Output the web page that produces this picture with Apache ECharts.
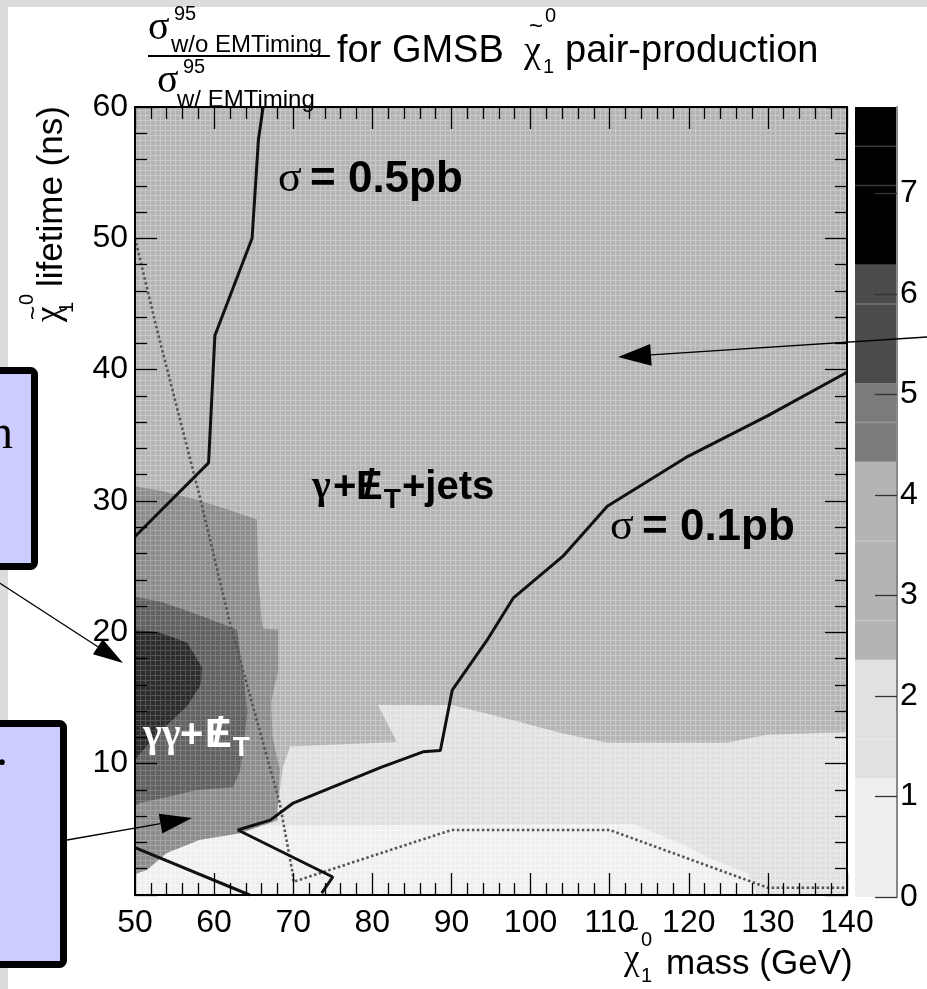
<!DOCTYPE html>
<html>
<head>
<meta charset="utf-8">
<title>GMSB neutralino pair-production, sigma ratio</title>
<script src="https://cdn.jsdelivr.net/npm/echarts@6.0.0/dist/echarts.min.js"></script>
<style>
  html, body { margin: 0; padding: 0; background: #fff; }
  #chart { width: 927px; height: 989px; }
</style>
</head>
<body>
<div id="chart"></div>
<script>
// axis ranges
const massRange = [50, 140];
const lifetimeRange = [0, 60];
const colorMax = 7.86;

// colour scale: band edges and greys, plus the faint contour levels inside bands
const bandEdges = [0, 1.18, 2.36, 4.33, 5.11, 6.29, 7.86];
const bandColors = ['#efefef', '#e1e1e1', '#b4b4b4', '#7b7b7b', '#4b4b4b', '#000000'];
const bandSubLevels = [1.57, 2.75, 3.54, 4.72, 5.9, 7.08, 7.47];

// filled contour regions, points are [mass GeV, lifetime ns]
const regionAll = [[50, 0], [140, 0], [140, 60], [50, 60]];
const regionLight = [[50, 0], [50, 1.6], [51.5, 1.9], [54, 3.2], [58.2, 4.2], [63.3, 4.7], [68, 5.7], [68, 6.5],
  [68.7, 9.75], [69.6, 11.3], [83.1, 11.65], [80.7, 14.47], [90.1, 14.47], [97.8, 13.3], [104.1, 12.3],
  [109.7, 11.6], [124.8, 11.6], [129.9, 12.2], [140, 12.4], [140, 0]];
const regionLightest = [[50, 0], [50, 1.6], [51.5, 1.9], [54, 3.2], [58.2, 4.2], [63.3, 4.7], [66, 5.3],
  [113, 5.4], [120, 3.66], [123.1, 2.67], [127.4, 1.68], [128.6, 0]];
const regionOuter = [[50, 31.1], [53.2, 30.8], [57.8, 30.1], [61.5, 29.4], [65.4, 28.6], [65.6, 24], [66, 21],
  [66.2, 20.3], [68.1, 20.2], [68.1, 17.1], [67.6, 15.8], [67.2, 14.6], [67.4, 12], [68.3, 9.5], [68, 6.5],
  [68, 5.7], [63.3, 4.7], [58.2, 4.2], [54, 3.2], [51.5, 1.9], [50, 1.6]];
const regionMiddle = [[50, 22.7], [53.5, 22.3], [58.6, 21.2], [62.9, 20.2], [63.3, 18.4], [63.9, 15.8],
  [64.2, 14], [63.8, 11.5], [63.3, 9.5], [62.4, 8.2], [57.8, 8.0], [54.4, 7.5], [50.6, 7.0], [50, 6.8]];
const regionInner = [[50, 20.2], [53, 20], [56.6, 19.2], [58.5, 17.3], [58.3, 16], [56.6, 14.4], [54.5, 13.2],
  [53.2, 12.5], [51, 11], [50, 10.3]];

// cross-section contours
const sigma05 = [[66.2, 60], [65.6, 57.5], [64.8, 50], [60.1, 42.6], [59.3, 32.9], [50, 27.3]];
const sigma01 = [[140, 39.8], [130, 36.5], [119.9, 33.4], [109.7, 29.6], [104.1, 25.8], [97.8, 22.6],
  [94.5, 19.4], [90.1, 15.6], [88.6, 11.0], [86.4, 10.9], [81.0, 9.7], [70.0, 7.0], [67.1, 5.7], [63.0, 4.95],
  [75.0, 1.37], [73.6, 0.15]];
const sigma01Low = [[50, 3.6], [64.5, 0]];
const dottedContour = [[50, 50], [52.8, 43], [58.2, 30.3], [62, 20.7], [68.3, 7], [70, 1.4], [70, 1.0],
  [90, 4.95], [110, 4.95], [130, 0.55], [140, 0.55]];

function texture(base, light) {
  const c = document.createElement('canvas');
  c.width = 5; c.height = 5;
  const g = c.getContext('2d');
  g.fillStyle = base; g.fillRect(0, 0, 5, 5);
  g.fillStyle = light; g.fillRect(0, 0, 1, 5); g.fillRect(0, 0, 5, 1);
  return { image: c, repeat: 'repeat' };
}

const regions = [
  { pts: regionAll, fill: texture('#b4b4b4', '#c8c8c8') },
  { pts: regionLight, fill: texture('#e0e0e0', '#ebebeb') },
  { pts: regionLightest, fill: texture('#efefef', '#f7f7f7') },
  { pts: regionOuter, fill: texture('#8c8c8c', '#a4a4a4') },
  { pts: regionMiddle, fill: texture('#616161', '#7e7e7e') },
  { pts: regionInner, fill: texture('#2c2c2c', '#525252') }
];

const SANS = "'Liberation Sans', Arial, sans-serif";
const SERIF = "'Liberation Serif', 'DejaVu Serif', serif";

// text placed by its baseline
function txt(x, base, text, size, family, opts) {
  opts = opts || {};
  return {
    type: 'text', x: x, y: base - 0.3 * size, z: 100,
    style: {
      text: text, font: (opts.weight || 'normal') + ' ' + size + 'px ' + family,
      fill: opts.fill || '#000', textAlign: opts.align || 'left', textVerticalAlign: 'middle'
    }
  };
}
// rotated text reading upwards, baseline at x = bx, starting at y
function vtxt(bx, y, text, size, family) {
  const el = txt(bx, 0, text, size, family);
  el.x = bx - 0.3 * size; el.y = y; el.rotation = Math.PI / 2;
  return el;
}
function arrow(x0, y0, x1, y1, len, half) {
  const d = Math.hypot(x1 - x0, y1 - y0), ux = (x1 - x0) / d, uy = (y1 - y0) / d;
  const bx = x1 - ux * len, by = y1 - uy * len;
  return [
    { type: 'line', z: 100, shape: { x1: x0, y1: y0, x2: bx, y2: by }, style: { stroke: '#000', lineWidth: 1.3 } },
    { type: 'polygon', z: 100, shape: { points: [[x1, y1], [bx - uy * half, by + ux * half], [bx + uy * half, by - ux * half]] },
      style: { fill: '#000' } }
  ];
}
function slashedE(x, base, size, fill, subSize, subDrop) {
  const w = 0.667 * size;
  return [
    txt(x, base, 'E', size, SANS, { weight: 'bold', fill: fill }),
    txt(x + w / 2, base - 0.02 * size, '/', size, SANS, { weight: 'bold', fill: fill, align: 'center' }),
    txt(x + w + 1, base + subDrop, 'T', subSize, SANS, { weight: 'bold', fill: fill })
  ];
}

const axisFont = { fontFamily: SANS, fontSize: 32, color: '#000' };
function frameAxis(extra) {
  return Object.assign({
    type: 'value', gridIndex: 0, z: 10,
    axisLine: { show: true, onZero: false, lineStyle: { color: '#000', width: 2 } },
    axisTick: { show: true, inside: true, length: 22, lineStyle: { color: '#000', width: 1.3 } },
    minorTick: { show: true, splitNumber: 5, length: 12, lineStyle: { color: '#000', width: 1.3 } },
    splitLine: { show: false }
  }, extra);
}

const graphics = [
  { type: 'rect', z: 90, shape: { x: 0, y: 0, width: 927, height: 7 }, style: { fill: '#dcdcdc' } },
  { type: 'rect', z: 90, shape: { x: 0, y: 0, width: 8, height: 989 }, style: { fill: '#dcdcdc' } },
  // slide boxes cut off at the left
  { type: 'rect', z: 95, shape: { x: -20, y: 370.5, width: 54.5, height: 196, r: 4 },
    style: { fill: '#ccccff', stroke: '#000', lineWidth: 7 } },
  { type: 'rect', z: 95, shape: { x: -20, y: 723.5, width: 83.5, height: 241, r: 4 },
    style: { fill: '#ccccff', stroke: '#000', lineWidth: 7 } },
  txt(13, 450, 'n', 48, SERIF, { align: 'right' }),
  txt(-4, 767, '.', 48, SERIF),
  // title fraction
  txt(148, 40, 'σ', 40, SERIF),
  txt(174, 20, '95', 20, SANS),
  txt(171, 53, 'w/o EMTiming', 24, SANS),
  { type: 'line', z: 100, shape: { x1: 148, y1: 56, x2: 330, y2: 56 }, style: { stroke: '#000', lineWidth: 2 } },
  txt(157, 93, 'σ', 40, SERIF),
  txt(183, 73, '95', 20, SANS),
  txt(177, 108, 'w/ EMTiming', 24, SANS),
  txt(337, 63, 'for GMSB', 38, SANS),
  txt(524, 63, 'χ', 38, SERIF),
  txt(536, 35, '~', 24, SANS, { align: 'center' }),
  txt(545, 22, '0', 20, SANS),
  txt(543, 73, '1', 20, SANS),
  txt(565, 63, 'pair-production', 38, SANS),
  // y axis title
  vtxt(63, 287, 'lifetime (ns)', 35, SANS),
  vtxt(60, 322, 'χ', 35, SERIF),
  vtxt(73, 313, '1', 20, SANS),
  vtxt(33, 305, '0', 20, SANS),
  { type: 'text', x: 34, y: 313, z: 100, rotation: Math.PI / 2,
    style: { text: '~', font: '24px ' + SANS, fill: '#000', textAlign: 'center', textVerticalAlign: 'middle' } },
  // x axis title
  txt(624, 970, 'χ', 35, SERIF),
  txt(632, 938, '~', 24, SANS, { align: 'center' }),
  txt(641, 946, '0', 20, SANS),
  txt(641, 982, '1', 20, SANS),
  txt(666, 975, 'mass (GeV)', 35, SANS),
  // labels inside the frame
  txt(278, 193, 'σ', 44, SERIF),
  txt(310, 193, '= 0.5pb', 44, SANS, { weight: 'bold' }),
  txt(610, 541, 'σ', 44, SERIF),
  txt(642, 541, '= 0.1pb', 44, SANS, { weight: 'bold' }),
  txt(312, 500, 'γ', 40, SERIF, { weight: 'bold' }),
  txt(333, 500, '+', 40, SANS, { weight: 'bold' }),
  ...slashedE(356, 500, 40, '#000', 28, 9),
  txt(402, 500, '+jets', 40, SANS, { weight: 'bold' }),
  txt(143, 748, 'γγ', 40, SERIF, { weight: 'bold', fill: '#fff' }),
  txt(180, 748, '+', 40, SANS, { weight: 'bold', fill: '#fff' }),
  ...slashedE(205, 748, 40, '#fff', 28, 9),
  ...arrow(-5, 580, 123, 663, 30, 9),
  ...arrow(67, 840, 192, 818, 32, 10),
  ...arrow(927, 337, 618, 357, 33, 11)
];

const chart = echarts.init(document.getElementById('chart'), null, { renderer: 'canvas' });
chart.setOption({
  animation: false,
  backgroundColor: '#fff',
  grid: [
    { left: 135, top: 107, width: 712, height: 788, outerBoundsMode: 'none' },
    { left: 855, top: 107, width: 42, height: 790, outerBoundsMode: 'none' }
  ],
  xAxis: [
    frameAxis({ min: massRange[0], max: massRange[1], interval: 10, position: 'bottom',
      axisLabel: Object.assign({ margin: 12 }, axisFont) }),
    frameAxis({ min: massRange[0], max: massRange[1], interval: 10, position: 'top', axisLabel: { show: false } }),
    { type: 'value', gridIndex: 1, min: 0, max: 1, show: false }
  ],
  yAxis: [
    frameAxis({ min: lifetimeRange[0], max: lifetimeRange[1], interval: 10, position: 'left',
      axisLabel: Object.assign({ margin: 7, showMinLabel: false }, axisFont) }),
    frameAxis({ min: lifetimeRange[0], max: lifetimeRange[1], interval: 10, position: 'right', axisLabel: { show: false } }),
    { type: 'value', gridIndex: 1, min: 0, max: colorMax, interval: 1, position: 'right', z: 10,
      axisLine: { show: true, onZero: false, lineStyle: { color: '#888', width: 2 } },
      axisTick: { show: true, inside: true, length: 22, lineStyle: { color: '#333', width: 1.3 } },
      axisLabel: Object.assign({ margin: 3, showMaxLabel: false,
        formatter: (v) => (Math.abs(v - Math.round(v)) < 1e-6 ? String(Math.round(v)) : '') }, axisFont),
      splitLine: { show: false } }
  ],
  series: [
    {
      type: 'custom', xAxisIndex: 0, yAxisIndex: 0, silent: true, z: 1,
      data: regions.map((r) => r.pts[0]),
      renderItem: (params, api) => ({
        type: 'polygon',
        shape: { points: regions[params.dataIndex].pts.map((p) => api.coord(p)) },
        style: { fill: regions[params.dataIndex].fill }
      })
    },
    { type: 'line', xAxisIndex: 0, yAxisIndex: 0, data: dottedContour, symbol: 'none', silent: true, z: 3,
      lineStyle: { color: '#555', width: 2.6, type: [2.5, 2.5] } },
    { type: 'line', xAxisIndex: 0, yAxisIndex: 0, data: sigma05, symbol: 'none', silent: true, z: 4,
      lineStyle: { color: '#111', width: 3 } },
    { type: 'line', xAxisIndex: 0, yAxisIndex: 0, data: sigma01, symbol: 'none', silent: true, z: 4,
      lineStyle: { color: '#111', width: 3 } },
    { type: 'line', xAxisIndex: 0, yAxisIndex: 0, data: sigma01Low, symbol: 'none', silent: true, z: 4,
      lineStyle: { color: '#111', width: 3 } },
    {
      type: 'custom', xAxisIndex: 2, yAxisIndex: 2, silent: true, z: 1,
      data: bandColors.map((c, i) => [0, bandEdges[i]]),
      renderItem: (params, api) => {
        const i = params.dataIndex;
        const p0 = api.coord([0, bandEdges[i]]);
        const p1 = api.coord([1, bandEdges[i + 1]]);
        return { type: 'rect', shape: { x: p0[0], y: p1[1], width: p1[0] - p0[0], height: p0[1] - p1[1] },
          style: { fill: bandColors[i] } };
      }
    },
    {
      type: 'custom', xAxisIndex: 2, yAxisIndex: 2, silent: true, z: 2,
      data: bandSubLevels.map((v) => [0, v]),
      renderItem: (params, api) => {
        const p0 = api.coord([0, api.value(1)]);
        const p1 = api.coord([1, api.value(1)]);
        return { type: 'line', shape: { x1: p0[0], y1: p0[1], x2: p1[0], y2: p1[1] },
          style: { stroke: 'rgba(255,255,255,0.22)', lineWidth: 1.5 } };
      }
    }
  ],
  graphic: graphics
});
</script>
</body>
</html>
